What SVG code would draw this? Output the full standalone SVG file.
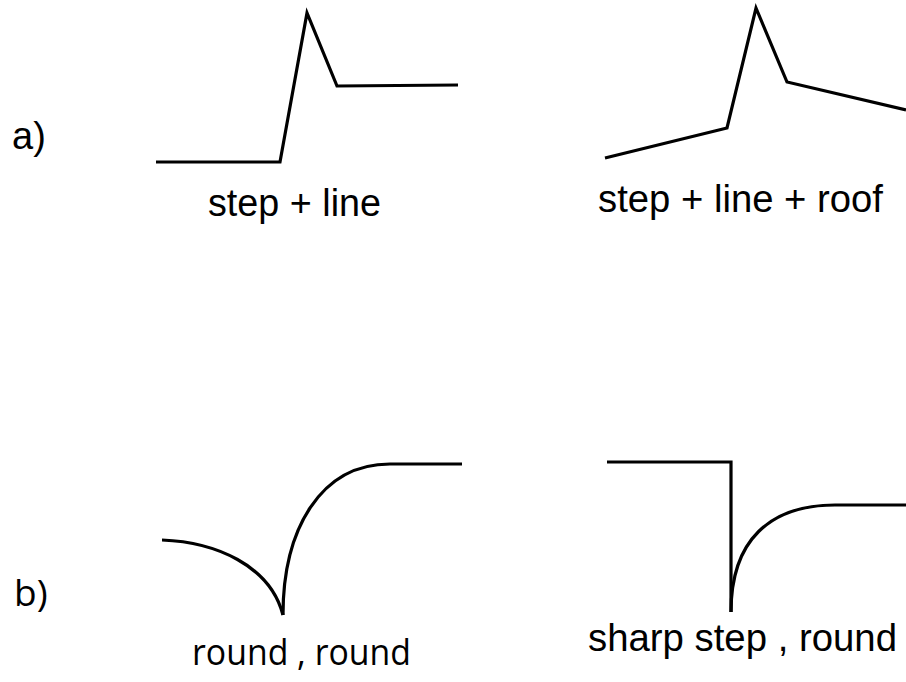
<svg xmlns="http://www.w3.org/2000/svg" width="906" height="682" viewBox="0 0 906 682">
<style>
.curve{fill:none;stroke:#000;stroke-width:3.2;stroke-linejoin:miter;stroke-linecap:butt}
.lbl{font-family:"Liberation Sans",Arial,sans-serif;font-size:38px;fill:#000}
.lbl2{font-family:"Open Sans","DejaVu Sans",sans-serif;font-size:37px;fill:#000}
</style>
<rect width="906" height="682" fill="#fff"/>
<g id="label-a"><text class="lbl" x="12" y="149" font-size="37">a)</text></g>
<g id="label-b"><text class="lbl2" x="14" y="606">b)</text></g>
<g id="step-line">
<path class="curve" d="M156,162 L280,162 L307,13 L337,86 L458,85"/>
<text class="lbl" x="208" y="216" textLength="173" lengthAdjust="spacingAndGlyphs">step + line</text>
</g>
<g id="step-line-roof">
<path class="curve" d="M605,158 L727,128 L756,8 L787,82 L906,110"/>
<text class="lbl" x="598" y="212" textLength="285" lengthAdjust="spacingAndGlyphs">step + line + roof</text>
</g>
<g id="round-round">
<path class="curve" d="M162,540 C215,542 270,565 283,615"/>
<path class="curve" d="M283,615 C283,530 320,464 390,464 L462,464"/>
<text class="lbl2" x="192" y="665" textLength="219" lengthAdjust="spacingAndGlyphs">round , round</text>
</g>
<g id="sharp-step-round">
<path class="curve" d="M607,462 L731,462 L731,612"/>
<path class="curve" d="M731,612 C731,540 770,505 835,505 L906,505"/>
<text class="lbl" x="588" y="651" textLength="309" lengthAdjust="spacingAndGlyphs">sharp step , round</text>
</g>
</svg>
